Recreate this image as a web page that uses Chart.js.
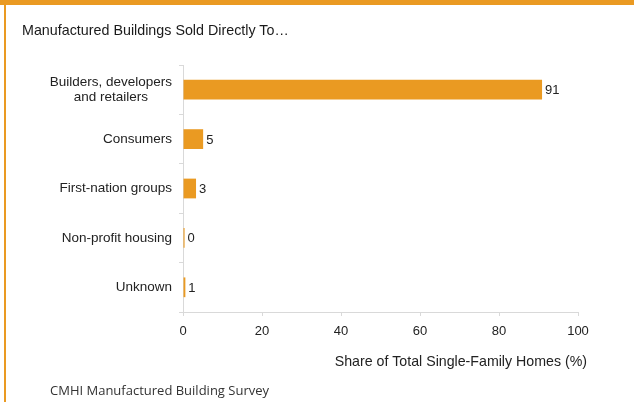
<!DOCTYPE html>
<html>
<head>
<meta charset="utf-8">
<script src="https://cdn.jsdelivr.net/npm/chart.js@4.4.1/dist/chart.umd.min.js"></script>
<style>
    html, body { margin: 0; padding: 0; background: #fff; }
    #frame { position: relative; width: 634px; height: 402px; overflow: hidden; }
    #top-bar { position: absolute; left: 0; top: 0; width: 634px; height: 5px; background: #EA9A22; }
    #left-bar { position: absolute; left: 4px; top: 0; width: 2px; height: 402px; background: #EA9A22; }
    #title { position: absolute; left: 22px; top: 22px; font: 14.3px/16px "Liberation Sans", Arial, sans-serif; color: #1a1a1a; }
    #source { position: absolute; left: 50px; top: 381px; font: 13px/18px "Open Sans", sans-serif; color: #333; }
    canvas { position: absolute; left: 0; top: 0; }
</style>
</head>
<body>
<div id="frame">
    <canvas id="chart" width="634" height="402"></canvas>
    <div id="top-bar"></div>
    <div id="left-bar"></div>
    <div id="title">Manufactured Buildings Sold Directly To…</div>
    <div id="source">CMHI Manufactured Building Survey</div>
</div>
<script>
// Data
const categories = [
    ['Builders, developers', 'and retailers'],
    'Consumers',
    'First-nation groups',
    'Non-profit housing',
    'Unknown'
];
const shares = [90.9, 5.1, 3.3, 0.4, 0.6];
const xTicks = [0, 20, 40, 60, 80, 100];
const xAxisTitle = 'Share of Total Single-Family Homes (%)';

const ORANGE = '#EA9A22';
const AXIS_GREY = '#d9d9d9';
const TEXT = '#222';
const FONT_FAMILY = '"Liberation Sans", Arial, sans-serif';

// Category labels: multi-line labels are centred on their widest line,
// and the whole block is right-aligned against the axis.
// The x axis title is drawn here too, since it runs a little past the plot edge.
const axisText = {
    id: 'axisText',
    afterDraw(chart) {
        const { ctx } = chart;
        const yScale = chart.scales.y;
        const xScale = chart.scales.x;
        const lineHeight = 15.6;
        const rightEdge = yScale.right - 11;
        ctx.save();
        ctx.font = `13.5px ${FONT_FAMILY}`;
        ctx.fillStyle = TEXT;
        ctx.textAlign = 'center';
        ctx.textBaseline = 'middle';
        categories.forEach((label, i) => {
            const lines = Array.isArray(label) ? label : [label];
            const widest = Math.max(...lines.map(l => ctx.measureText(l).width));
            const cx = rightEdge - widest / 2;
            const cy = yScale.getPixelForValue(i);
            lines.forEach((line, j) => {
                ctx.fillText(line, cx, cy + (j - (lines.length - 1) / 2) * lineHeight);
            });
        });

        ctx.font = `14.2px ${FONT_FAMILY}`;
        ctx.textAlign = 'right';
        ctx.fillText(xAxisTitle, xScale.right + 9, xScale.bottom - 8);
        ctx.restore();
    }
};

// Value labels at the end of each bar
const valueLabels = {
    id: 'valueLabels',
    afterDatasetsDraw(chart) {
        const { ctx } = chart;
        const meta = chart.getDatasetMeta(0);
        ctx.save();
        ctx.font = `13px ${FONT_FAMILY}`;
        ctx.fillStyle = TEXT;
        ctx.textAlign = 'left';
        ctx.textBaseline = 'middle';
        meta.data.forEach((bar, i) => {
            ctx.fillText(String(Math.round(shares[i])), bar.x + 3, bar.y + 1);
        });
        ctx.restore();
    }
};

new Chart(document.getElementById('chart').getContext('2d'), {
    type: 'bar',
    data: {
        labels: categories,
        datasets: [{
            data: shares,
            backgroundColor: ORANGE,
            borderWidth: 0,
            barPercentage: 0.4,
            categoryPercentage: 1
        }]
    },
    options: {
        indexAxis: 'y',
        responsive: false,
        animation: false,
        layout: { padding: { top: 65, left: 0, right: 56, bottom: 32 } },
        plugins: {
            legend: { display: false },
            tooltip: { enabled: false }
        },
        scales: {
            x: {
                min: xTicks[0],
                max: xTicks[xTicks.length - 1],
                afterBuildTicks: scale => { scale.ticks = xTicks.map(v => ({ value: v })); },
                afterFit: scale => { scale.height = 58; },
                grid: { drawOnChartArea: false, tickLength: 4, color: AXIS_GREY },
                border: { color: AXIS_GREY },
                ticks: { padding: 8, color: TEXT, font: { family: FONT_FAMILY, size: 13 } },
                title: { display: false }
            },
            y: {
                afterFit: scale => { scale.width = 183; },
                grid: { drawOnChartArea: false, tickLength: 4, color: AXIS_GREY },
                border: { color: AXIS_GREY },
                ticks: { display: false }
            }
        }
    },
    plugins: [axisText, valueLabels]
});
</script>
</body>
</html>
